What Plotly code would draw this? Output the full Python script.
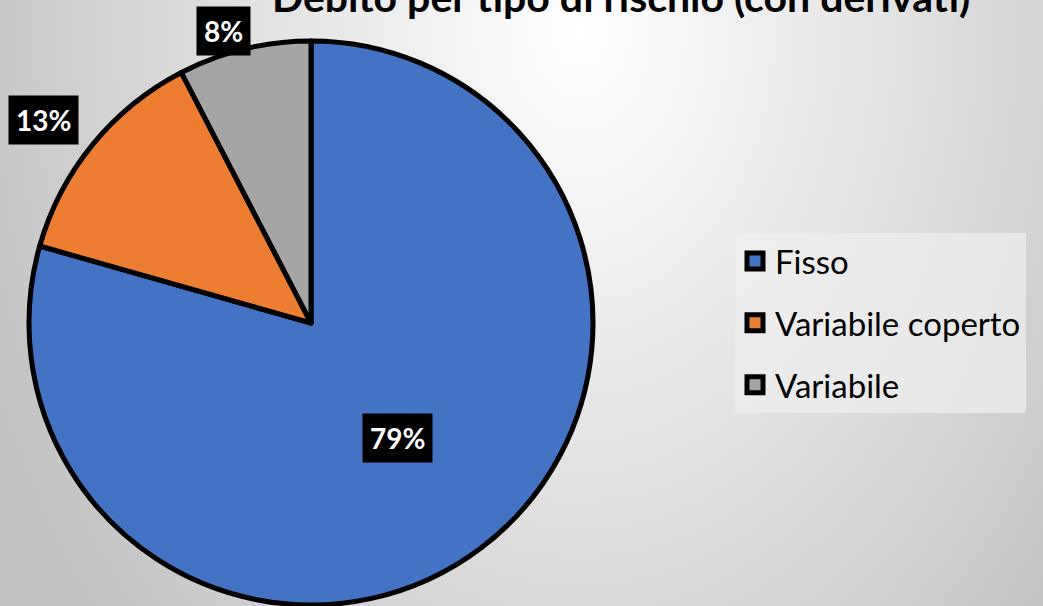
import math
import plotly.graph_objects as go

# Debt split by interest-rate risk (with derivatives)
categories = ["Fisso", "Variabile coperto", "Variabile"]
shares = [79.4, 13.0, 7.6]
slice_colors = ["#4472C4", "#ED7D31", "#A5A5A5"]
title_text = "Debito per tipo di rischio (con derivati)"

W, H = 1043, 606
CX, CY, R = 311, 323, 282  # pie centre and radius in pixels

fig = go.Figure()

# Soft radial glow behind the chart, drawn on a hidden pixel-unit axis
gcx, gcy, ghw, ghh = 580, 30, 640, 900
fig.add_trace(go.Scatter(
    x=[gcx - ghw, gcx + ghw, gcx + ghw, gcx - ghw, gcx - ghw],
    y=[gcy - ghh, gcy - ghh, gcy + ghh, gcy + ghh, gcy - ghh],
    mode="lines", line=dict(width=0), fill="toself",
    fillgradient=dict(type="radial",
                      colorscale=[[0, "#ffffff"], [0.5, "#e2e2e2"], [1, "#c2c2c2"]]),
    hoverinfo="skip", showlegend=False,
))

fig.add_trace(go.Pie(
    labels=categories, values=shares, sort=False,
    direction="clockwise", rotation=0,
    marker=dict(colors=slice_colors, line=dict(color="black", width=5)),
    textinfo="none", showlegend=False,
    domain=dict(x=[(CX - R) / W, (CX + R) / W],
                y=[max(0, 1 - (CY + R) / H), 1 - (CY - R) / H]),
))

# Percentage callouts placed along each slice's bisector
total = sum(shares)
label_radius = [0.51, 1.19, 1.08]
label_turn = [0, -2, -3]
cum = 0.0
for v, f, d in zip(shares, label_radius, label_turn):
    mid = math.radians((cum + v / 2) / total * 360 + d)
    cum += v
    fig.add_annotation(
        x=CX + f * R * math.sin(mid), y=CY - f * R * math.cos(mid),
        xref="x", yref="y", showarrow=False,
        text=f"<b>{round(v / total * 100)}%</b>",
        font=dict(family="Lato", size=28, color="white"),
        bgcolor="black", borderpad=7,
    )

fig.add_annotation(
    x=621, y=23, xref="x", yref="y", xanchor="center", yanchor="bottom",
    showarrow=False, text=f"<b>{title_text}</b>",
    font=dict(family="Lato", size=41, color="black"),
)

# Legend entries, one group each so they can be spaced apart
for name, c in zip(categories, slice_colors):
    fig.add_trace(go.Scatter(
        x=[None], y=[None], mode="markers", name=name, legendgroup=name,
        marker=dict(symbol="square", size=16, color=c,
                    line=dict(color="black", width=5)),
    ))

fig.update_layout(
    width=W, height=H,
    margin=dict(l=0, r=0, t=0, b=0),
    paper_bgcolor="#d4d4d4", plot_bgcolor="rgba(0,0,0,0)",
    xaxis=dict(range=[0, W], visible=False, fixedrange=True),
    yaxis=dict(range=[H, 0], visible=False, fixedrange=True),
    legend=dict(
        x=735 / W, y=1 - 233 / H, xanchor="left", yanchor="top",
        bgcolor="rgba(240,240,240,0.7)",
        font=dict(family="Lato", size=33, color="black"),
        tracegroupgap=16, itemsizing="trace",
    ),
    showlegend=True,
)

fig.write_html("out.html")
